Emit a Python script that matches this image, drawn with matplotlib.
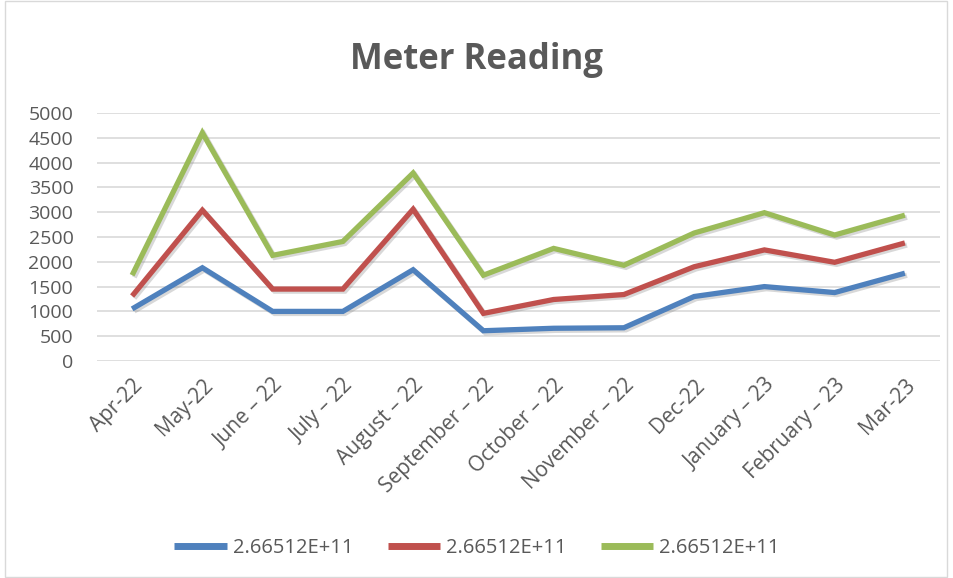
import numpy as np
import matplotlib
matplotlib.use("Agg")
import matplotlib.pyplot as plt
import matplotlib.patheffects as pe

months = ["Apr-22", "May-22", "June \u2013 22", "July \u2013 22", "August \u2013 22",
          "September \u2013 22", "October \u2013 22", "November \u2013 22", "Dec-22",
          "January \u2013 23", "February \u2013 23", "Mar-23"]
series_names = ["2.66512E+11", "2.66512E+11", "2.66512E+11"]

blue_vals = [1050, 1880, 1000, 1000, 1840, 610, 660, 670, 1300, 1500, 1380, 1770]
red_vals = [1310, 3040, 1450, 1450, 3060, 960, 1240, 1340, 1900, 2240, 1990, 2380]
green_vals = [1730, 4600, 2130, 2410, 3790, 1730, 2270, 1930, 2580, 2990, 2540, 2940]

colors = ["#4F81BD", "#C0504D", "#9BBB59"]
grey = "#595959"

plt.rcParams['font.family'] = ['Open Sans', 'DejaVu Sans']

fig = plt.figure(figsize=(9.54, 5.78), dpi=100)
ax = fig.add_axes([97 / 954, 1 - 361 / 578, 843 / 954, 248 / 578])

x = np.arange(len(months))
shadow = [pe.SimpleLineShadow(offset=(1.5, -1.5), shadow_color="grey", alpha=0.3), pe.Normal()]
for vals, c, name in zip([blue_vals, red_vals, green_vals], colors, series_names):
    ax.plot(x, vals, color=c, lw=3.8, label=name, solid_joinstyle="miter",
            solid_capstyle="butt", path_effects=shadow)

ax.set_xlim(-0.5, len(months) - 0.5)
ax.set_ylim(0, 5000)
ax.set_yticks(np.arange(0, 5001, 500))
ax.grid(axis="y", color="#d9d9d9", lw=1.2)
ax.set_axisbelow(True)
for s in ax.spines.values():
    s.set_visible(False)
ax.tick_params(length=0, colors=grey)
ax.tick_params(axis="y", pad=17, labelsize=14)
ax.set_xticks(x)
ax.set_xticklabels(months, rotation=45, ha="right", rotation_mode="anchor")
ax.tick_params(axis="x", pad=10, labelsize=15)

fig.text(0.5, 1 - 60 / 578, "Meter Reading", ha="center", va="center",
         fontsize=25, fontweight="bold", color=grey)

leg = fig.legend(loc="center", bbox_to_anchor=(0.5, 1 - 548 / 578), ncol=3,
                 frameon=False, fontsize=14.5, handlelength=2.6, columnspacing=1.7,
                 handletextpad=0.3)
for t in leg.get_texts():
    t.set_color(grey)
for h in leg.get_lines():
    h.set_linewidth(5)
    h.set_path_effects([])

fig.patches.append(plt.Rectangle((5 / 954, 0.002), 942 / 954, 0.996, transform=fig.transFigure,
                                 fill=False, edgecolor="#d9d9d9", lw=1))

fig.savefig("out.png", dpi=100)
